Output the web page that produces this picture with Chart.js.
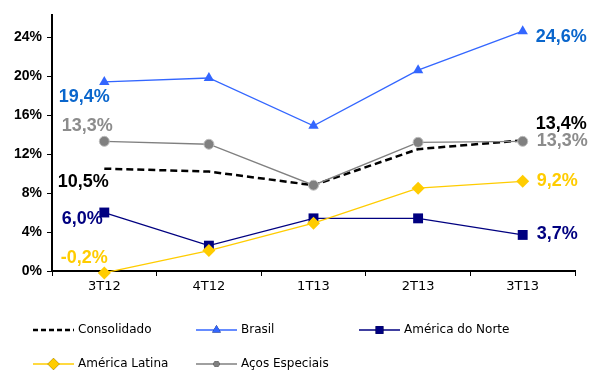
<!DOCTYPE html>
<html>
<head>
<meta charset="utf-8">
<script src="https://cdn.jsdelivr.net/npm/chart.js@4/dist/chart.umd.min.js"></script>
<style>
  html, body { margin: 0; padding: 0; background: #fff; }
  #wrap { width: 592px; height: 371px; }
</style>
</head>
<body>
<div id="wrap"><canvas id="c" width="592" height="371"></canvas></div>
<script>
// Margem EBITDA por segmento (%)
const categories = ['3T12', '4T12', '1T13', '2T13', '3T13'];
const consolidado = [10.5, 10.2, 8.8, 12.5, 13.4];
const brasil = [19.4, 19.8, 14.9, 20.6, 24.6];
const americaNorte = [6.0, 2.6, 5.4, 5.4, 3.7];
const americaLatina = [-0.2, 2.1, 4.9, 8.5, 9.2];
const acosEspeciais = [13.3, 13.0, 8.8, 13.2, 13.3];
const yTicks = [0, 4, 8, 12, 16, 20, 24];

const fmt = v => v.toFixed(1).replace('.', ',') + '%';

const datasets = [
  { label: 'Consolidado', data: consolidado, borderColor: '#000000', backgroundColor: '#000000',
    borderWidth: 2.5, borderDash: [7, 4], pointRadius: 0, order: 5,
    valueColor: '#000000', valueLabels: [{ i: 0, dx: -21, dy: 13, align: 'center' }, { i: 4, dx: 13, dy: -16, align: 'left' }],
    legendMarker: null },
  { label: 'Brasil', data: brasil, borderColor: '#3366FF', backgroundColor: '#3366FF',
    borderWidth: 1.3, pointStyle: 'triangle', pointRadius: 6, pointBorderWidth: 0, order: 4,
    valueColor: '#0A66CC', valueLabels: [{ i: 0, dx: -20, dy: 15, align: 'center' }, { i: 4, dx: 13, dy: 6, align: 'left' }],
    legendMarker: { style: 'triangle', r: 5 } },
  { label: 'América do Norte', data: americaNorte, borderColor: '#000080', backgroundColor: '#000080',
    borderWidth: 1.3, pointStyle: 'rect', pointRadius: 7, pointBorderWidth: 0, order: 3,
    valueColor: '#000080', valueLabels: [{ i: 0, dx: -22, dy: 7, align: 'center' }, { i: 4, dx: 14, dy: -1, align: 'left' }],
    legendMarker: { style: 'rect', r: 5.5 } },
  { label: 'América Latina', data: americaLatina, borderColor: '#FFCC00', backgroundColor: '#FFCC00',
    borderWidth: 1.3, pointStyle: 'rectRot', pointRadius: 6.5, pointBorderWidth: 0, order: 2,
    valueColor: '#FFCC00', valueLabels: [{ i: 0, dx: -20, dy: -15, align: 'center' }, { i: 4, dx: 14, dy: 0, align: 'left' }],
    legendMarker: { style: 'rectRot', r: 6 } },
  { label: 'Aços Especiais', data: acosEspeciais, borderColor: '#808080', backgroundColor: '#808080',
    borderWidth: 1.3, pointStyle: 'circle', pointRadius: 5, pointBorderColor: '#BDBDBD', pointBorderWidth: 1, order: 1,
    valueColor: '#8C8C8C', valueLabels: [{ i: 0, dx: -17, dy: -15, align: 'center' }, { i: 4, dx: 14, dy: 0, align: 'left' }],
    legendMarker: { style: 'circle', r: 3 } }
];

// Value labels at the first and last point of each series
const valueLabelPlugin = {
  id: 'valueLabels',
  afterDatasetsDraw(chart) {
    const ctx = chart.ctx;
    ctx.save();
    ctx.font = 'bold 18px "Liberation Sans", Arial, sans-serif';
    ctx.textBaseline = 'middle';
    chart.data.datasets.forEach((ds, di) => {
      const meta = chart.getDatasetMeta(di);
      ds.valueLabels.forEach(l => {
        const pt = meta.data[l.i];
        ctx.fillStyle = ds.valueColor;
        ctx.textAlign = l.align;
        ctx.fillText(fmt(ds.data[l.i]), pt.x + l.dx, pt.y + l.dy);
      });
    });
    ctx.restore();
  }
};

// Two-row legend below the axis
const legendSlots = [
  { x: 33, y: 330 }, { x: 196, y: 330 }, { x: 359, y: 330 },
  { x: 33, y: 364 }, { x: 196, y: 364 }
];
const legendPlugin = {
  id: 'gridLegend',
  afterDraw(chart) {
    const ctx = chart.ctx;
    ctx.save();
    ctx.font = '12px "DejaVu Sans", sans-serif';
    ctx.textBaseline = 'middle';
    ctx.textAlign = 'left';
    chart.data.datasets.forEach((ds, di) => {
      const s = legendSlots[di];
      ctx.strokeStyle = ds.borderColor;
      ctx.lineWidth = ds.borderDash ? 2.5 : 2;
      ctx.globalAlpha = ds.borderDash ? 1 : 0.75;
      ctx.setLineDash(ds.borderDash ? [5, 3] : []);
      ctx.beginPath();
      ctx.moveTo(s.x, s.y);
      ctx.lineTo(s.x + 41, s.y);
      ctx.stroke();
      ctx.setLineDash([]);
      ctx.globalAlpha = 1;
      if (ds.legendMarker) {
        Chart.helpers.drawPoint(ctx, {
          pointStyle: ds.legendMarker.style, radius: ds.legendMarker.r, borderWidth: 0, rotation: 0
        }, s.x + 20.5, s.y);
        ctx.fillStyle = ds.backgroundColor;
        ctx.fill();
      }
      ctx.fillStyle = '#000';
      ctx.fillText(ds.label, s.x + 45, s.y);
    });
    ctx.restore();
  }
};

new Chart(document.getElementById('c'), {
  type: 'line',
  data: { labels: categories, datasets },
  options: {
    responsive: false,
    animation: false,
    clip: false,
    layout: { padding: { top: 15, right: 17, left: 0, bottom: 0 } },
    plugins: { legend: { display: false }, tooltip: { enabled: false } },
    elements: { line: { tension: 0 } },
    scales: {
      x: {
        type: 'category',
        offset: true,
        grid: { offset: true, drawOnChartArea: false, drawTicks: true, tickLength: 5, color: '#000', lineWidth: 1 },
        border: { color: '#000', width: 2 },
        ticks: { color: '#000', font: { family: '"DejaVu Sans", sans-serif', size: 13 }, padding: 3, maxRotation: 0 },
        afterFit(scale) { scale.height = 100; }
      },
      y: {
        min: 0,
        max: 26.26,
        afterBuildTicks(scale) { scale.ticks = yTicks.map(v => ({ value: v })); },
        grid: { drawOnChartArea: false, drawTicks: true, tickLength: 5, color: '#000', lineWidth: 1 },
        border: { color: '#000', width: 2 },
        ticks: {
          color: '#000', padding: 5,
          font: { family: '"Liberation Sans", Arial, sans-serif', size: 14, weight: 'bold' },
          callback: v => v + '%'
        },
        afterFit(scale) { scale.width = 52; }
      }
    }
  },
  plugins: [valueLabelPlugin, legendPlugin]
});
</script>
</body>
</html>
